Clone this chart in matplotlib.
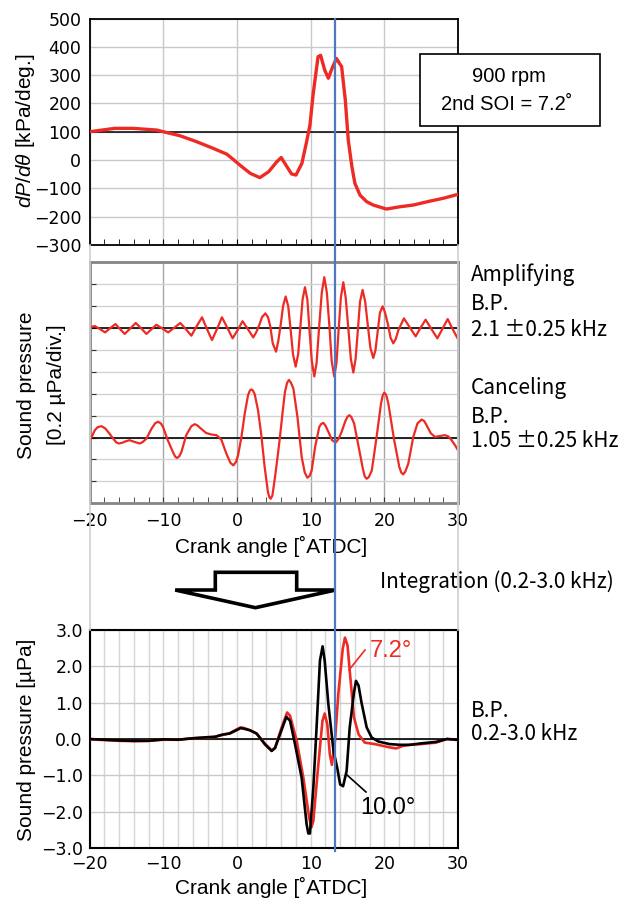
import matplotlib
matplotlib.use("Agg")
import matplotlib.pyplot as plt
from matplotlib.lines import Line2D
from matplotlib.patches import Polygon, Rectangle
from matplotlib.ticker import MultipleLocator

# ---------------- data ----------------
# Top panel: rate of pressure rise dP/dθ [kPa/deg.]
dp_angle = [-20.0, -16.6, -14.1, -10.9, -10.0, -7.75, -5.5, -3.2, -1.4, -0.5, 0.4, 1.8, 3.1,
            4.3, 5.4, 6.0, 6.5, 7.4, 8.0, 8.8, 9.4, 9.9, 10.35, 11.0, 11.35, 11.9, 12.4,
            12.9, 13.5, 13.9, 14.2, 14.7, 15.1, 15.6, 16.0, 16.7, 17.6, 18.5, 20.3, 22.1,
            23.9, 26.2, 28.0, 30.0]
dp_value = [100, 112, 112, 106, 100, 86, 65, 41, 21, 2, -18, -47, -62,
            -41, -6, 9, -12, -49, -53, -12, 59, 124, 236, 365, 370, 318, 289,
            324, 359, 342, 330, 212, 71, -24, -82, -124, -147, -159, -173, -165,
            -159, -145, -135, -121]

# Middle panel: band-pass filtered sound pressure, in divisions (1 div = 0.2 µPa)
amp_angle = [-20.0, -19.3, -18.6, -17.9, -17.2, -16.5, -15.9, -15.25, -14.5, -13.75, -13.0,
             -12.3, -11.6, -10.95, -10.15, -9.35, -8.5, -7.7, -6.95, -6.2, -5.5, -4.75,
             -4.1, -3.4, -2.7, -2.05, -1.3, -0.6, 0.1, 0.75, 1.5, 2.2, 2.6, 3.0, 3.4, 3.85,
             4.2, 4.5, 4.85, 5.3, 5.6, 5.95, 6.25, 6.6, 6.95, 7.3, 7.6, 7.96, 8.3, 8.6, 8.9,
             9.22, 9.55, 9.85, 10.15, 10.49, 10.8, 11.15, 11.5, 11.85, 12.2, 12.55, 12.85,
             13.2, 13.5, 13.8, 14.1, 14.43, 14.75, 15.1, 15.45, 15.79, 16.1, 16.4, 16.7,
             17.05, 17.4, 17.75, 18.1, 18.5, 18.8, 19.1, 19.4, 19.77, 20.1, 20.5, 20.85,
             21.22, 21.55, 21.9, 22.66, 23.45, 24.25, 24.9, 25.6, 26.4, 27.2, 27.9, 28.6,
             29.2, 29.8, 30.0]
amp_value = [0.03, 0.09, -0.05, -0.20, 0.0, 0.18, -0.04, -0.27, -0.02, 0.23, -0.02,
             -0.27, -0.05, 0.15, -0.02, -0.20, 0.02, 0.23, -0.05, -0.35, 0.07, 0.49,
             -0.03, -0.55, -0.03, 0.49, 0.0, -0.47, -0.08, 0.31, -0.06, -0.43, -0.2, 0.12, 0.5, 0.67,
             0.5, 0.1, -0.7, -1.08, -0.6, 0.2, 1.0, 1.44, 1.0, -0.15, -1.2, -1.76, -1.2, 0.05, 1.3,
             1.86, 1.3, -0.15, -1.5, -2.21, -1.6, 0.05, 1.6, 2.32, 1.6, 0.05, -1.5,
             -2.21, -1.6, -0.05, 1.4, 2.09, 1.4, 0.03, -1.4, -2.03, -1.4, -0.12, 1.2,
             1.74, 1.2, 0.15, -0.9, -1.37, -1.0, -0.15, 0.7, 0.99, 0.7, 0.15, -0.45,
             -0.7, -0.5, -0.1, 0.44, 0.03, -0.38, 0.0, 0.38, -0.05, -0.47, -0.03, 0.41,
             0.0, -0.38, -0.5]

can_angle = [-20.0, -19.6, -19.3, -18.9, -18.4, -17.9, -17.5, -16.8, -16.4, -16.06, -15.6,
             -15.2, -14.6, -13.9, -13.2, -12.8, -12.3, -11.6, -11.1, -10.7, -10.35, -10.05,
             -9.4, -8.7, -8.4, -8.15, -7.85, -7.55, -6.9, -6.2, -5.75, -5.4, -5.07, -4.2,
             -3.5, -2.8, -2.4, -2.1, -1.45, -0.9, -0.5, -0.15, 0.14, 0.6, 1.05, 1.5, 1.75,
             1.95, 2.15, 2.4, 2.85, 3.3, 3.75, 4.2, 4.4, 4.57, 4.8, 5.16, 5.5, 5.83, 6.2,
             6.51, 6.8, 7.05, 7.3, 7.65, 8.2, 8.78, 9.2, 9.55, 9.85, 10.14, 10.6, 11.17,
             11.45, 11.72, 12.0, 12.4, 12.9, 13.39, 13.8, 14.2, 14.7, 15.0, 15.25, 15.5,
             15.9, 16.6, 17.1, 17.35, 17.6, 17.9, 18.3, 18.95, 19.55, 19.8, 20.0, 20.25,
             20.54, 21.3, 22.03, 22.3, 22.57, 22.85, 23.25, 23.93, 24.5, 25.06, 25.4,
             25.74, 26.3, 26.87, 27.5, 28.23, 28.7, 29.13, 29.6, 30.0]
can_value = [-0.15, 0.12, 0.34, 0.48, 0.52, 0.42, 0.26, -0.05, -0.22, -0.27, -0.24,
             -0.18, -0.12, -0.2, -0.27, -0.2, -0.05, 0.41, 0.66, 0.72, 0.65, 0.49,
             -0.12, -0.66, -0.87, -0.93, -0.86, -0.66, 0.11, 0.52, 0.61, 0.56, 0.46, 0.21,
             0.14, 0.11, 0.0, -0.12, -0.73, -1.15, -1.27, -1.12, -0.81, 0.03, 1.1, 1.94, 2.15,
             2.2, 2.15, 1.98, 1.25, 0.11, -1.34, -2.49, -2.73, -2.79, -2.65, -1.8, -0.9, 0.03, 1.2,
             2.09, 2.5, 2.63, 2.52, 2.24, 0.95, -0.89, -1.6, -1.83, -1.75, -1.5, -0.43, 0.49,
             0.63, 0.67, 0.55, 0.26, -0.12, -0.23, -0.05, 0.26, 0.75, 0.95, 1.02, 0.95,
             0.64, -0.58, -1.45, -1.78, -1.88, -1.8, -1.5, 0.03, 1.56, 1.95, 2.05, 1.95,
             1.56, -0.05, -1.34, -1.6, -1.68, -1.55, -1.19, 0.03, 0.65, 0.82, 0.76,
             0.56, 0.2, 0.03, 0.07, 0.11, 0.05, -0.12, -0.35, -0.58]

# Bottom panel: integrated sound pressure [µPa] for two 2nd-SOI timings
int_angle_100 = [-20, -18, -16, -14, -12, -10, -8, -6, -4, -3, -2, -1, 0, 0.5, 1, 1.76, 2.66,
                 3.8, 4.7, 5.16, 5.84, 6.7, 7.2, 7.87, 8.77, 9.45, 9.68, 9.9, 10.36, 10.8,
                 11.26, 11.62, 11.9, 12.4, 13.1, 13.6, 14.0, 14.4, 14.88, 15.3, 15.88, 16.15,
                 16.5, 16.9, 17.6, 18.28, 19.2, 20.7, 22.1, 23.5, 25, 27, 28.5, 30]
int_value_100 = [0.0, -0.02, -0.04, -0.05, -0.05, -0.01, -0.02, 0.02, 0.05, 0.06, 0.12, 0.15,
                 0.25, 0.30, 0.28, 0.24, 0.15, -0.15, -0.33, -0.25, 0.13, 0.61, 0.5, -0.14,
                 -1.06, -2.35, -2.6, -2.6, -1.34, 0.32, 2.16, 2.55, 2.16, 0.96, -0.33, -0.79,
                 -1.25, -1.3, -0.88, 0.32, 1.28, 1.6, 1.47, 1.0, 0.32, 0.04, -0.07, -0.14,
                 -0.16, -0.16, -0.12, -0.08, 0.0, -0.02]
int_angle_72 = [-20, -18, -16, -14, -12, -10, -8, -6, -4, -3, -2, -1, 0, 0.5, 1, 1.76, 2.66,
                3.8, 4.7, 5.16, 6.06, 6.8, 7.2, 8.1, 9.0, 9.8, 10.1, 10.36, 11.0, 11.6, 11.9,
                12.25, 12.6, 12.88, 13.3, 13.75, 14.35, 14.65, 15.0, 15.3, 15.88, 16.5, 17.35,
                18.7, 20.7, 21.6, 22.5, 23.5, 25, 27, 28.5, 30]
int_value_72 = [-0.01, -0.03, -0.05, -0.06, -0.05, -0.02, -0.02, 0.02, 0.04, 0.06, 0.11, 0.16,
                0.27, 0.32, 0.3, 0.24, 0.15, -0.13, -0.31, -0.24, 0.32, 0.73, 0.64, -0.05,
                -1.06, -2.17, -2.43, -2.26, -0.79, 0.5, 0.7, 0.41, -0.42, -0.71, -0.05, 1.24,
                2.48, 2.79, 2.58, 1.88, 0.59, 0.13, -0.1, -0.14, -0.23, -0.26, -0.19, -0.16,
                -0.14, -0.1, 0.0, -0.03]

soi_line_angle = 13.3
x_ticks = [-20, -10, 0, 10, 20, 30]

# ---------------- layout ----------------
W, H = 629, 909
fig = plt.figure(figsize=(W / 100, H / 100), dpi=100)
plt.rcParams['mathtext.fontset'] = 'custom'
plt.rcParams['mathtext.it'] = 'Liberation Sans:italic'
plt.rcParams['mathtext.rm'] = 'Liberation Sans'


def fx(px):
    return px / W


def fy(py):
    return 1 - py / H


def axes_box(left, top, right, bottom):
    return [fx(left), fy(bottom), (right - left) / W, (bottom - top) / H]


TICKFONT = dict(family=['Liberation Sans Narrow', 'DejaVu Sans Condensed', 'DejaVu Sans'], size=12.5)
LABELFONT = dict(family=['Liberation Sans', 'DejaVu Sans'], size=15)
NOTEFONT = dict(family=['Noto Sans CJK JP', 'DejaVu Sans'], size=15)
RED = '#ee2a24'
GRID = '#c9c9c9'
BLUE = '#4f78c0'

L, R = 89.7, 458.0
ax1 = fig.add_axes(axes_box(L, 18.5, R, 245))
ax2 = fig.add_axes(axes_box(L, 262.3, R, 503.3))
ax3 = fig.add_axes(axes_box(L, 630, R, 848))

minus = lambda s: s.replace('-', '\u2212')

# --- top panel ---
ax1.set_xlim(-20, 30)
ax1.set_ylim(-300, 500)
ax1.set_yticks(range(-300, 501, 100))
ax1.set_yticklabels([minus(str(v)) for v in range(-300, 501, 100)], **TICKFONT)
ax1.set_xticks(x_ticks)
ax1.xaxis.set_minor_locator(MultipleLocator(2))
ax1.set_xticklabels([])
ax1.grid(True, color=GRID, lw=1)
ax1.axhline(100, color='black', lw=1.1, zorder=2)
ax1.plot(dp_angle, dp_value, color=RED, lw=2.4, zorder=3, solid_joinstyle='round')
ax1.tick_params(axis='y', length=0, pad=6)
ax1.tick_params(axis='x', which='both', direction='in', length=4, color='black')
for s in ax1.spines.values():
    s.set_color('black'); s.set_linewidth(1.3)

# --- middle panel ---
ax2.set_xlim(-20, 30)
ax2.set_ylim(0, 11)
ax2.set_yticks(range(0, 12))
ax2.set_yticklabels([])
ax2.set_xticks(x_ticks)
ax2.set_xticklabels([minus(str(v)) for v in x_ticks], **TICKFONT)
ax2.xaxis.set_minor_locator(MultipleLocator(2))
ax2.grid(True, axis='y', color='#d2d2d2', lw=1)
ax2.grid(True, axis='x', color='#a8a8a8', lw=1)
ax2.axhline(8, color='black', lw=1.2, zorder=2)
ax2.axhline(3, color='black', lw=1.2, zorder=2)
ax2.plot(amp_angle, [8 + v for v in amp_value], color=RED, lw=1.6, zorder=3, solid_joinstyle='round')
ax2.plot(can_angle, [3 + v for v in can_value], color=RED, lw=1.6, zorder=3, solid_joinstyle='round')
ax2.tick_params(axis='both', which='both', direction='in', length=4, color='#333333')
ax2.tick_params(axis='x', pad=6)
for s in ax2.spines.values():
    s.set_color('#858585'); s.set_linewidth(2)

# --- bottom panel ---
ax3.set_xlim(-20, 30)
ax3.set_ylim(-3, 3)
ax3.set_yticks(range(-3, 4))
ax3.set_yticklabels([minus(f"{v:.1f}") for v in range(-3, 4)], **TICKFONT)
ax3.set_xticks(x_ticks)
ax3.set_xticklabels([minus(str(v)) for v in x_ticks], **TICKFONT)
ax3.xaxis.set_minor_locator(MultipleLocator(2))
ax3.grid(True, axis='x', which='both', color='#d6d6d6', lw=1)
ax3.grid(True, axis='y', color=GRID, lw=1)
ax3.axhline(0, color='black', lw=1.2, zorder=2)
ax3.plot(int_angle_72, int_value_72, color=RED, lw=1.9, zorder=3, solid_joinstyle='round')
ax3.plot(int_angle_100, int_value_100, color='black', lw=1.9, zorder=4, solid_joinstyle='round')
ax3.tick_params(axis='both', which='both', length=0, pad=5)
for s in ax3.spines.values():
    s.set_color('black'); s.set_linewidth(1.5)

# ---------------- decorations ----------------
for xp in (L, R):
    fig.add_artist(Line2D([fx(xp), fx(xp)], [fy(245), fy(630)], color='#cfcfcf', lw=1.2,
                          transform=fig.transFigure, zorder=0.5))

xb_disp = ax1.transData.transform((soi_line_angle, 0))[0]
xb = fig.transFigure.inverted().transform((xb_disp, 0))[0]
fig.add_artist(Line2D([xb, xb], [fy(18.5), fy(851)], color=BLUE, lw=1.6,
                      transform=fig.transFigure, zorder=10))

arrow_px = [(215.3, 572.3), (296.7, 572.3), (296.7, 590), (335.6, 590), (255.4, 607.7),
            (175.2, 590), (215.3, 590)]
fig.add_artist(Polygon([(fx(a), fy(b)) for a, b in arrow_px], closed=True,
                       facecolor='white', edgecolor='black', lw=2.6,
                       transform=fig.transFigure, zorder=5))

fig.text(fx(26), fy(131), r'$dP/d\theta$ [kPa/deg.]', rotation=90, ha='center', va='center', **LABELFONT)
fig.text(fx(27), fy(385), 'Sound pressure', rotation=90, ha='center', va='center', **LABELFONT)
fig.text(fx(57), fy(385), '[0.2 µPa/div.]', rotation=90, ha='center', va='center', **LABELFONT)
fig.text(fx(27), fy(740), 'Sound pressure [µPa]', rotation=90, ha='center', va='center', **LABELFONT)

fig.text(fx(271), fy(546), 'Crank angle [˚ATDC]', ha='center', va='center', **LABELFONT)
fig.text(fx(271), fy(887), 'Crank angle [˚ATDC]', ha='center', va='center', **LABELFONT)

fig.add_artist(Rectangle((fx(419.7), fy(126)), (600.4 - 419.7) / W, (126 - 54.3) / H,
                         facecolor='white', edgecolor='black', lw=1.2,
                         transform=fig.transFigure, zorder=6))
BOXFONT = dict(family=['Liberation Sans', 'DejaVu Sans'], size=14.5)
fig.text(fx(509), fy(77), '900 rpm', ha='center', va='center', zorder=7, **BOXFONT)
fig.text(fx(507), fy(104), '2nd SOI = 7.2˚', ha='center', va='center', zorder=7, **BOXFONT)

notes = [('Amplifying', 275), ('B.P.', 304), ('2.1 ±0.25 kHz', 330),
         ('Canceling', 388), ('B.P.', 417), ('1.05 ±0.25 kHz', 441),
         ('B.P.', 711), ('0.2-3.0 kHz', 734)]
for t, yp in notes:
    fig.text(fx(471), fy(yp), t, ha='left', va='center', **NOTEFONT)
fig.text(fx(380), fy(582), 'Integration (0.2-3.0 kHz)', ha='left', va='center', **NOTEFONT)

ANNFONT = dict(family=['Liberation Sans', 'DejaVu Sans'], size=17)
fig.text(fx(370), fy(651), '7.2°', color=RED, ha='left', va='center', **ANNFONT)
fig.add_artist(Line2D([fx(365), fx(349)], [fy(650), fy(670)], color=RED, lw=1.2,
                      transform=fig.transFigure, zorder=6))
fig.text(fx(360), fy(808), '10.0°', color='black', ha='left', va='center', **ANNFONT)
fig.add_artist(Line2D([fx(347), fx(366)], [fy(775), fy(792)], color='black', lw=1.2,
                      transform=fig.transFigure, zorder=6))

fig.savefig('out.png', dpi=100)
